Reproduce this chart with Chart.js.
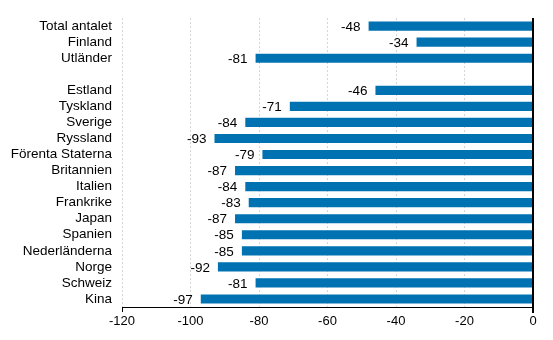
<!DOCTYPE html>
<html>
<head>
<meta charset="utf-8">
<script src="https://cdn.jsdelivr.net/npm/chart.js@4"></script>
<style>
  html, body { margin: 0; padding: 0; background: #fff; }
  #wrap { width: 553px; height: 340px; }
</style>
</head>
<body>
<div id="wrap"><canvas id="chart" width="553" height="340"></canvas></div>
<script>
// Categories (blank entry is the gap after Utländer)
const categories = [
  "Total antalet", "Finland", "Utländer", "",
  "Estland", "Tyskland", "Sverige", "Ryssland", "Förenta Staterna",
  "Britannien", "Italien", "Frankrike", "Japan", "Spanien",
  "Nederländerna", "Norge", "Schweiz", "Kina"
];
const values = [
  -48, -34, -81, null,
  -46, -71, -84, -93, -79,
  -87, -84, -83, -87, -85,
  -85, -92, -81, -97
];
const xTicks = [-120, -100, -80, -60, -40, -20, 0];

const FONT = "'Liberation Sans', Arial, sans-serif";

// value labels left of each bar end, plus the solid zero line
const barLabels = {
  id: "barLabels",
  afterDatasetsDraw(chart) {
    const ctx = chart.ctx;
    const meta = chart.getDatasetMeta(0);
    ctx.save();
    ctx.font = "13.5px " + FONT;
    ctx.fillStyle = "#000";
    ctx.textAlign = "right";
    ctx.textBaseline = "middle";
    meta.data.forEach((bar, i) => {
      const v = values[i];
      if (v === null) return;
      ctx.fillText(String(v), bar.x - 8, bar.y + 1);
    });
    const x0 = Math.round(chart.scales.x.getPixelForValue(0));
    const xl = Math.round(chart.scales.x.getPixelForValue(-120)) + 0.5;
    const area = chart.chartArea;
    ctx.strokeStyle = "#000";
    ctx.lineWidth = 2;
    ctx.beginPath();
    ctx.moveTo(x0, area.top);
    ctx.lineTo(x0, area.bottom + 6);
    ctx.stroke();
    ctx.lineWidth = 1;
    ctx.beginPath();
    ctx.moveTo(xl, area.bottom);
    ctx.lineTo(xl, area.bottom + 5);
    ctx.stroke();
    ctx.restore();
  }
};

new Chart(document.getElementById("chart"), {
  type: "bar",
  data: {
    labels: categories,
    datasets: [{
      data: values,
      backgroundColor: "#0072b2",
      categoryPercentage: 1,
      barPercentage: 0.57
    }]
  },
  options: {
    indexAxis: "y",
    responsive: false,
    animation: false,
    layout: { padding: { top: 15, right: 20, bottom: 0, left: 0 } },
    plugins: { legend: { display: false }, tooltip: { enabled: false } },
    scales: {
      x: {
        min: -120,
        max: 0,
        afterBuildTicks: s => { s.ticks = xTicks.map(v => ({ value: v })); },
        afterFit: s => { s.height = 33; },
        grid: { color: "#d4d4d4", lineWidth: 1, drawTicks: false },
        border: { display: true, color: "#000", width: 1, dash: [2, 2] },
        ticks: { color: "#000", padding: 7, font: { family: FONT, size: 13 } }
      },
      y: {
        afterFit: s => { s.width = 122; },
        grid: { display: false, drawTicks: false },
        border: { display: false },
        ticks: { color: "#000", padding: 10, autoSkip: false, font: { family: FONT, size: 13.5 } }
      }
    }
  },
  plugins: [barLabels]
});
</script>
</body>
</html>
